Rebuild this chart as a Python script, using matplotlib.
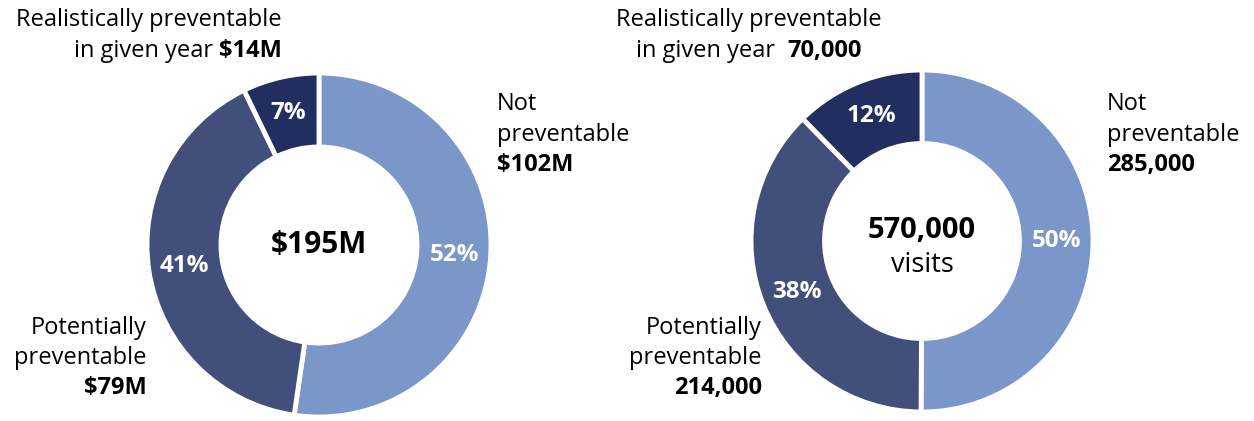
import numpy as np
import matplotlib.pyplot as plt

plt.rcParams['font.family'] = ['Open Sans', 'DejaVu Sans']

# cost breakdown ($M) and visit breakdown
cost_labels = ['Not preventable', 'Potentially preventable', 'Realistically preventable']
cost_values = [102, 79, 14]
cost_pct = [52, 41, 7]
cost_total = '$195M'

visit_values = [285000, 214000, 70000]
visit_pct = [50, 38, 12]
visit_total = '570,000'

colors = ['#7B96C9', '#414F7A', '#222D60']

W, H = 1254, 421
fig = plt.figure(figsize=(W / 100, H / 100), dpi=100)


def donut(cx, cy, r, values, pct):
    ax = fig.add_axes([(cx - r) / W, (H - cy - r) / H, 2 * r / W, 2 * r / H])
    wedges, texts = ax.pie(values, colors=colors, startangle=90, counterclock=False,
                           radius=1, wedgeprops=dict(width=0.43, edgecolor='white', linewidth=3.5))
    # percentage labels in the middle of the ring
    for w, p in zip(wedges, pct):
        ang = np.deg2rad((w.theta1 + w.theta2) / 2)
        ax.text(0.79 * np.cos(ang), 0.79 * np.sin(ang), f'{p}%', color='white',
                fontsize=17.5, fontweight='bold', ha='center', va='center')
    ax.set_xlim(-1, 1)
    ax.set_ylim(-1, 1)
    ax.set_aspect('equal')
    ax.axis('off')
    return ax


ax1 = donut(319, 245, 172, cost_values, cost_pct)
ax2 = donut(922, 241, 171, visit_values, visit_pct)

ax1.text(0, 0, cost_total, fontsize=21.5, fontweight='bold', ha='center', va='center')
ax2.text(0, 0.06, visit_total, fontsize=21, fontweight='bold', ha='center', va='center')
ax2.text(0, -0.14, 'visits', fontsize=19.5, ha='center', va='center')

fs = 17


def ftext(x, y, s, **kw):
    return fig.text(x / W, 1 - y / H, s, fontsize=fs, va='center', **kw)


def split_line(x_right, y, regular, bold):
    # regular text followed by a bold value, right aligned at x_right
    b = ftext(x_right, y, bold, ha='right', fontweight='bold')
    fig.canvas.draw()
    bb = b.get_window_extent()
    ftext(bb.x0, y, regular, ha='right')


# left chart labels
ftext(282, 20, 'Realistically preventable', ha='right')
split_line(282, 51, 'in given year ', '$14M')
ftext(497, 104, 'Not', ha='left')
ftext(497, 135, 'preventable', ha='left')
ftext(497, 165, '$102M', ha='left', fontweight='bold')
ftext(147, 328, 'Potentially', ha='right')
ftext(147, 358, 'preventable', ha='right')
ftext(147, 388, '$79M', ha='right', fontweight='bold')

# right chart labels
ftext(882, 20, 'Realistically preventable', ha='right')
split_line(862, 51, 'in given year  ', '70,000')
ftext(1107, 104, 'Not', ha='left')
ftext(1107, 135, 'preventable', ha='left')
ftext(1107, 165, '285,000', ha='left', fontweight='bold')
ftext(762, 328, 'Potentially', ha='right')
ftext(762, 358, 'preventable', ha='right')
ftext(762, 388, '214,000', ha='right', fontweight='bold')

fig.savefig('out.png', dpi=100)
